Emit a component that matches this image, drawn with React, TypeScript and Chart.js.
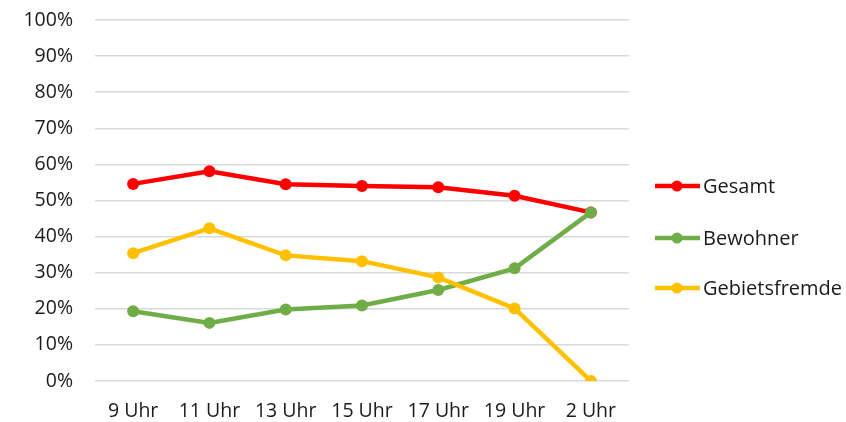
import React, { useEffect, useRef } from "react";
import { Chart, registerables } from "chart.js";

Chart.register(...registerables);

const categories = ["9 Uhr", "11 Uhr", "13 Uhr", "15 Uhr", "17 Uhr", "19 Uhr", "2 Uhr"];
const gesamt = [54.6, 58.1, 54.5, 54.0, 53.7, 51.3, 46.7];
const bewohner = [19.3, 16.1, 19.8, 20.9, 25.2, 31.2, 46.7];
const gebietsfremde = [35.4, 42.3, 34.8, 33.2, 28.7, 20.1, 0];
const seriesNames = ["Gesamt", "Bewohner", "Gebietsfremde"];
const seriesColors = ["#ff0000", "#70ad47", "#ffc000"];

const FONT = "'Open Sans', sans-serif";
const TEXT = "#1a1a1a";

const legendPlugin = {
  id: "customLegend",
  afterDraw(chart: any) {
    const { ctx, chartArea } = chart;
    const x0 = chartArea.right + 26;
    const offsets = [166, 218, 268];
    ctx.save();
    chart.data.datasets.forEach((ds: any, i: number) => {
      const y = chartArea.top + offsets[i];
      ctx.strokeStyle = ds.borderColor;
      ctx.lineWidth = 4.5;
      ctx.beginPath();
      ctx.moveTo(x0, y);
      ctx.lineTo(x0 + 45, y);
      ctx.stroke();
      ctx.fillStyle = ds.borderColor;
      ctx.beginPath();
      ctx.arc(x0 + 22, y, 5.5, 0, Math.PI * 2);
      ctx.fill();
      ctx.fillStyle = TEXT;
      ctx.font = `20px ${FONT}`;
      ctx.textBaseline = "middle";
      ctx.textAlign = "left";
      ctx.fillText(ds.label, x0 + 48, y + 1);
    });
    ctx.restore();
  },
};

export default function App() {
  const ref = useRef<HTMLCanvasElement>(null);
  useEffect(() => {
    const data = [gesamt, bewohner, gebietsfremde];
    const chart = new Chart(ref.current as HTMLCanvasElement, {
      type: "line",
      data: {
        labels: categories,
        datasets: data.map((d, i) => ({
          label: seriesNames[i],
          data: d,
          borderColor: seriesColors[i],
          backgroundColor: seriesColors[i],
          borderWidth: 4.5,
          pointRadius: 6,
          pointBorderWidth: 0,
          tension: 0,
          order: 3 - i,
        })),
      },
      options: {
        animation: false,
        responsive: false,
        layout: { padding: { top: 20, right: 217, left: 0, bottom: 0 } },
        plugins: { legend: { display: false }, tooltip: { enabled: false } },
        scales: {
          x: {
            offset: true,
            grid: { display: false, drawTicks: false },
            border: { display: false },
            ticks: { color: TEXT, font: { family: FONT, size: 19.5 }, padding: 19, maxRotation: 0, autoSkip: false },
            afterFit: (s: any) => {
              s.height = 41;
              s.paddingLeft = 0;
              s.paddingRight = 0;
            },
          },
          y: {
            min: 0,
            max: 100,
            ticks: {
              stepSize: 10,
              color: TEXT,
              font: { family: FONT, size: 19.5 },
              padding: 22,
              callback: (v: any) => `${v}%`,
            },
            grid: { color: "#d9d9d9", lineWidth: 1.5, drawTicks: false },
            border: { display: false },
            afterFit: (s: any) => {
              s.width = 95;
              s.paddingTop = 0;
              s.paddingBottom = 0;
            },
          },
        },
      },
      plugins: [legendPlugin],
    });
    return () => chart.destroy();
  }, []);
  return (
    <div style={{ position: "fixed", left: 0, top: 0, width: 846, height: 422, background: "#fff" }}>
      <canvas ref={ref} width={846} height={422} style={{ width: 846, height: 422 }} />
    </div>
  );
}
